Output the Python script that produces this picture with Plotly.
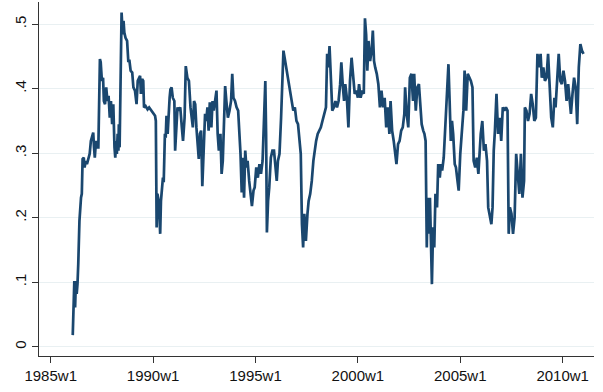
import plotly.graph_objects as go

# weeks since 1985w1 (Stata weekly: 52 weeks per year)
weeks = [56,58,60,62,64,66,68,70,73,77,79,81,84,86,89,92,96,99,102,105,108,110,112,115,118,121,123,125,127,130,
133,135,138,141,144,147,150,153,156,159,162,164,166,168,170,172,173,175,177,179,180,183,185,187,190,194,197,200,203,207,
210,214,218,221,224,227,229,232,235,237,241,246,250,255,260,265,267,269,271,274,276,278,280,282,285,287,290,292,294,297,
300,302,304,307,310,314,316,319,322,325,329,333,336,340,343,347,351,355,358,361,364,367,370,373,376,379,382,385,388,392,
395,398,401,404,408,411,414,417,421,424,427,431,434,437,440,443,446,450,454,458,461,464,468,472,476,479,482,485,488,491,
494,497,500,504,507,511,515,518,522,526,530,534,538,542,545,547,549,552,555,559,563,567,571,574,577,581,585,588,591,594,
598,601,604,607,611,616,620,624,628,631,635,638,641,644,648,652,655,659,663,667,670,674,678,682,686,690,694,699,702,705,
708,711,715,719,723,727,731,735,738,742,745,748,752,756,760,764,768,772,776,780,783,787,791,795,798,801,804,807,811,815,
818,821,824,828,832,836,840,844,848,852,856,860,863,867,871,875,878,882,886,890,894,898,900,904,908,912,916,920,923,927,
931,935,938,942,946,949,952,955,957,960,963,966,968,971,974,977,981,984,988,991,994,998,1001,1004,1007,1010,1013,1016,1019,1022,
1026,1029,1033,1036,1040,1044,1048,1051,1055,1059,1063,1067,1071,1074,1078,1082,1086,1089,1092,1096,1100,1104,1108,1111,1115,1119,
1122,1125,1128,1132,1136,1140,1144,1148,1152,1156,1160,1163,1166,1170,1174,1178,1182,1186,1190,1194,1198,1202,1204,1208,1212,1216,
1220,1224,1228,1232,1236,1240,1244,1247,1251,1255,1259,1263,1267,1271,1275,1279,1282,1286,1290,1294,1298,1302,1306,1310,1314,1318,
1321,1325,1329,1333,1337,1341,1345,1349,1353]

values = [0.018,0.082,0.102,0.061,0.102,0.082,0.097,0.128,0.195,0.231,0.237,0.291,0.293,0.278,0.288,0.283,0.293,0.299,0.319,0.324,
0.332,0.309,0.293,0.319,0.309,0.309,0.366,0.446,0.441,0.412,0.417,0.381,0.376,0.402,0.381,0.389,0.355,0.381,0.345,0.376,
0.309,0.293,0.319,0.299,0.330,0.304,0.345,0.309,0.392,0.505,0.518,0.484,0.505,0.487,0.479,0.474,0.443,0.443,0.428,0.425,
0.402,0.397,0.376,0.412,0.417,0.420,0.392,0.415,0.412,0.371,0.373,0.368,0.371,0.366,0.363,0.358,0.350,0.185,0.237,0.226,
0.206,0.175,0.226,0.247,0.262,0.255,0.330,0.324,0.358,0.330,0.376,0.386,0.399,0.402,0.386,0.381,0.304,0.330,0.371,0.366,
0.371,0.340,0.319,0.355,0.435,0.417,0.412,0.371,0.355,0.340,0.381,0.376,0.340,0.309,0.291,0.330,0.335,0.249,0.314,0.361,
0.350,0.371,0.335,0.379,0.340,0.381,0.366,0.381,0.397,0.330,0.304,0.330,0.268,0.288,0.340,0.404,0.381,0.355,0.366,0.381,
0.423,0.386,0.381,0.371,0.366,0.340,0.299,0.239,0.293,0.231,0.304,0.278,0.288,0.257,0.239,0.218,0.242,0.247,0.278,0.262,
0.283,0.268,0.288,0.366,0.412,0.330,0.177,0.226,0.247,0.293,0.304,0.304,0.278,0.257,0.288,0.299,0.355,0.417,0.459,0.448,
0.433,0.423,0.407,0.397,0.386,0.366,0.371,0.350,0.345,0.319,0.299,0.190,0.154,0.206,0.164,0.206,0.226,0.237,0.257,0.288,
0.304,0.319,0.330,0.335,0.340,0.350,0.361,0.371,0.454,0.433,0.466,0.412,0.366,0.371,0.381,0.371,0.381,0.407,0.441,0.402,
0.381,0.407,0.386,0.340,0.412,0.448,0.412,0.392,0.397,0.386,0.407,0.386,0.397,0.392,0.509,0.484,0.428,0.474,0.443,0.459,
0.490,0.443,0.433,0.423,0.407,0.371,0.397,0.371,0.386,0.340,0.371,0.330,0.381,0.335,0.319,0.299,0.283,0.314,0.319,0.335,
0.340,0.361,0.402,0.361,0.340,0.417,0.423,0.381,0.423,0.366,0.402,0.407,0.371,0.345,0.335,0.330,0.319,0.154,0.231,0.175,
0.231,0.133,0.097,0.185,0.154,0.237,0.216,0.283,0.262,0.283,0.273,0.293,0.330,0.366,0.402,0.438,0.381,0.319,0.350,0.330,
0.283,0.278,0.257,0.242,0.299,0.340,0.366,0.428,0.366,0.423,0.417,0.412,0.402,0.288,0.278,0.293,0.268,0.299,0.330,0.350,
0.304,0.314,0.288,0.216,0.200,0.190,0.216,0.304,0.335,0.392,0.330,0.355,0.319,0.371,0.366,0.371,0.366,0.175,0.216,0.206,
0.175,0.200,0.299,0.262,0.237,0.299,0.231,0.257,0.371,0.366,0.350,0.361,0.392,0.376,0.350,0.355,0.454,0.433,0.454,0.417,
0.433,0.412,0.417,0.454,0.412,0.355,0.340,0.386,0.371,0.423,0.454,0.412,0.407,0.428,0.412,0.381,0.407,0.381,0.361,0.392,
0.417,0.402,0.345,0.433,0.469,0.459,0.454]

tick_weeks = [0, 260, 520, 780, 1040, 1300]
tick_text = ["1985w1", "1990w1", "1995w1", "2000w1", "2005w1", "2010w1"]
y_ticks = [0, 0.1, 0.2, 0.3, 0.4, 0.5]
y_text = ["0", ".1", ".2", ".3", ".4", ".5"]

fig = go.Figure()
fig.add_trace(go.Scatter(x=weeks, y=values, mode="lines",
                         line=dict(color="#1a476f", width=2.7), showlegend=False))

font = dict(family="Liberation Sans, Arial, sans-serif", size=15, color="#111111")
fig.update_layout(
    width=603, height=392,
    margin=dict(l=39, r=9, t=2, b=36),
    paper_bgcolor="white", plot_bgcolor="white",
    font=font,
)
fig.update_xaxes(range=[-29.7, 1379.6], tickmode="array", tickvals=tick_weeks, ticktext=tick_text,
                 showgrid=False, zeroline=False, showline=True, linecolor="#333333", linewidth=1,
                 ticks="outside", ticklen=6, tickcolor="#333333", tickfont=font, automargin=False)
fig.update_yaxes(range=[-0.0144, 0.5344], tickmode="array", tickvals=y_ticks, ticktext=y_text,
                 tickangle=-90, showgrid=True, gridcolor="#e9f0f2", gridwidth=1,
                 zeroline=False, showline=True, linecolor="#333333", linewidth=1,
                 ticks="outside", ticklen=6, tickcolor="#333333", tickfont=font, automargin=False)

fig.write_html("out.html", config={"displayModeBar": False},
               post_script="document.body.style.margin='0px';document.body.style.overflow='hidden';")
